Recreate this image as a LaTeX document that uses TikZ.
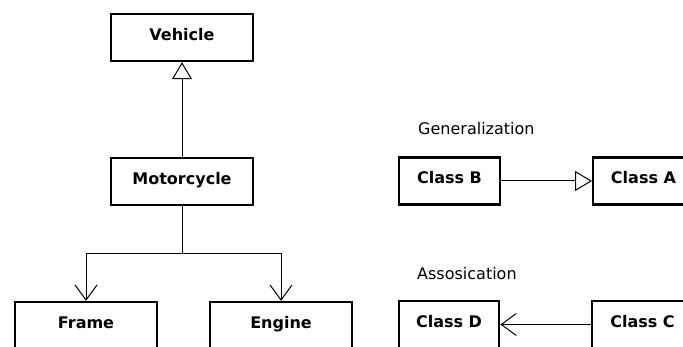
\documentclass[tikz,border=0pt]{standalone}
\usepackage{fontspec}
\setmainfont{DejaVu Sans}
\usepackage{tikz}
\usetikzlibrary{arrows.meta,positioning}

\begin{document}
\begin{tikzpicture}[x=1pt,y=-1pt,
  box/.style={draw,line width=2.4pt,inner sep=0pt,minimum height=47pt,text height=11.7pt,text depth=6.1pt,font=\fontsize{16}{19}\selectfont\bfseries},
  wide/.style={box,minimum width=141.5pt},
  narrow/.style={box,minimum width=100.5pt},
  gen/.style={line width=1pt,-{Triangle[length=17pt,width=20pt,fill=white]}},
  assoc/.style={line width=1pt,-{Straight Barb[length=15pt,width=22pt]}},
  caption/.style={anchor=base west,inner sep=0pt,font=\fontsize{16}{19}\selectfont}]
\useasboundingbox (0,0) rectangle (683,347);
\clip (0,0) rectangle (683,347);
% left tree
\node[wide] (vehicle) at (182,37.5) {Vehicle};
\node[wide] (moto) at (182,181.5) {Motorcycle};
\node[wide] (frame) at (86,325.5) {Frame};
\node[wide] (engine) at (281,325.5) {Engine};
\coordinate (split) at (182,254);
\draw[gen] (moto.north) -- (vehicle.south);
\draw[assoc] (moto.south) -- (split) -| (frame.north);
\draw[assoc] (split) -| (engine.north);
% legend
\node[caption] (gentext) at (418,135) {Generalization};
\node[narrow] (classb) at (449.5,181) {Class B};
\node[narrow] (classa) at (643.5,181) {Class A};
\draw[gen] (classb.east) -- (classa.west);
\node[caption] (assoctext) at (417,279.5) {Assosication};
\node[narrow] (classd) at (449,324.5) {Class D};
\node[narrow] (classc) at (642.5,324.5) {Class C};
\draw[assoc] (classc.west) -- (classd.east);
\end{tikzpicture}
\end{document}
